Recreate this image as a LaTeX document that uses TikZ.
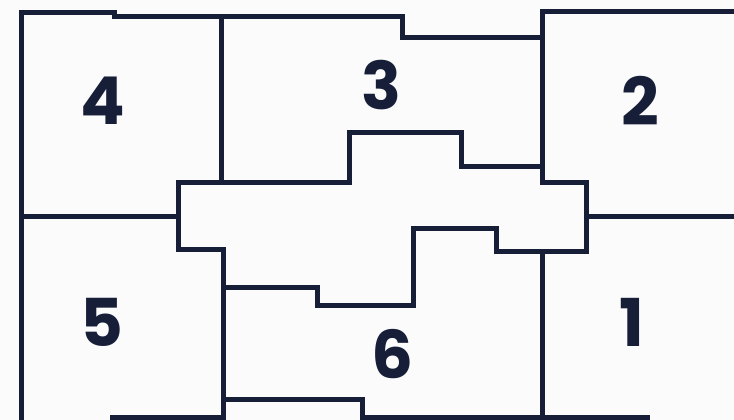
\documentclass[tikz,border=0pt]{standalone}
\usepackage{fontspec}
\setmainfont{Poppins}
\definecolor{wall}{RGB}{22,30,56}
\definecolor{bg}{RGB}{251,251,252}
\begin{document}
\begin{tikzpicture}[x=1pt,y=-1pt,
  wallline/.style={draw=wall,line width=5pt,line join=miter,line cap=rect},
  roomlabel/.style={text=wall,font=\fontsize{66}{66}\selectfont\bfseries,inner sep=0pt,anchor=center}]
\fill[bg] (0,0) rectangle (734,420);
\useasboundingbox (0,0) rectangle (734,420);
\begin{scope}
\clip (0,0) rectangle (734,420);
% outer left and top
\draw[wallline] (21,425) -- (21,12.5) -- (114,12.5) -- (114,17) -- (402,17) -- (402,38) -- (542,38);
\draw[wallline] (542,182) -- (542,12) -- (740,12);
% 4 / 3 divider
\draw[wallline] (221,17) -- (221,182);
% 4 / 5 divider
\draw[wallline] (21,216) -- (178,216);
% central corridor upper outline
\draw[wallline] (178,182) -- (349,182) -- (349,132) -- (461,132) -- (461,166) -- (542,166);
\draw[wallline] (542,182) -- (586,182) -- (586,251) -- (542,251);
% central corridor left and 5/6 divider
\draw[wallline] (178,182) -- (178,249) -- (223,249) -- (223,425);
% region 6 top
\draw[wallline] (223,287) -- (317,287) -- (317,305) -- (413,305) -- (413,228) -- (496,228) -- (496,251) -- (542,251);
% 6 / 1 divider
\draw[wallline] (542,251) -- (542,425);
% 2 / 1 divider
\draw[wallline] (586,216) -- (740,216);
% bottom
\draw[wallline] (112.5,417) -- (223,417);
\draw[wallline] (223,399) -- (362,399) -- (362,417) -- (647.5,417);
\draw[wallline] (362,399) -- (362,425);
\end{scope}
\node[roomlabel] (r4) at (103,101) {4};
\node[roomlabel] (r3) at (381,85) {3};
\node[roomlabel] (r2) at (640,101) {2};
\node[roomlabel] (r5) at (102,322) {5};
\node[roomlabel] (r6) at (393,354) {6};
\node[roomlabel] (r1) at (632,322) {1};
\end{tikzpicture}
\end{document}
